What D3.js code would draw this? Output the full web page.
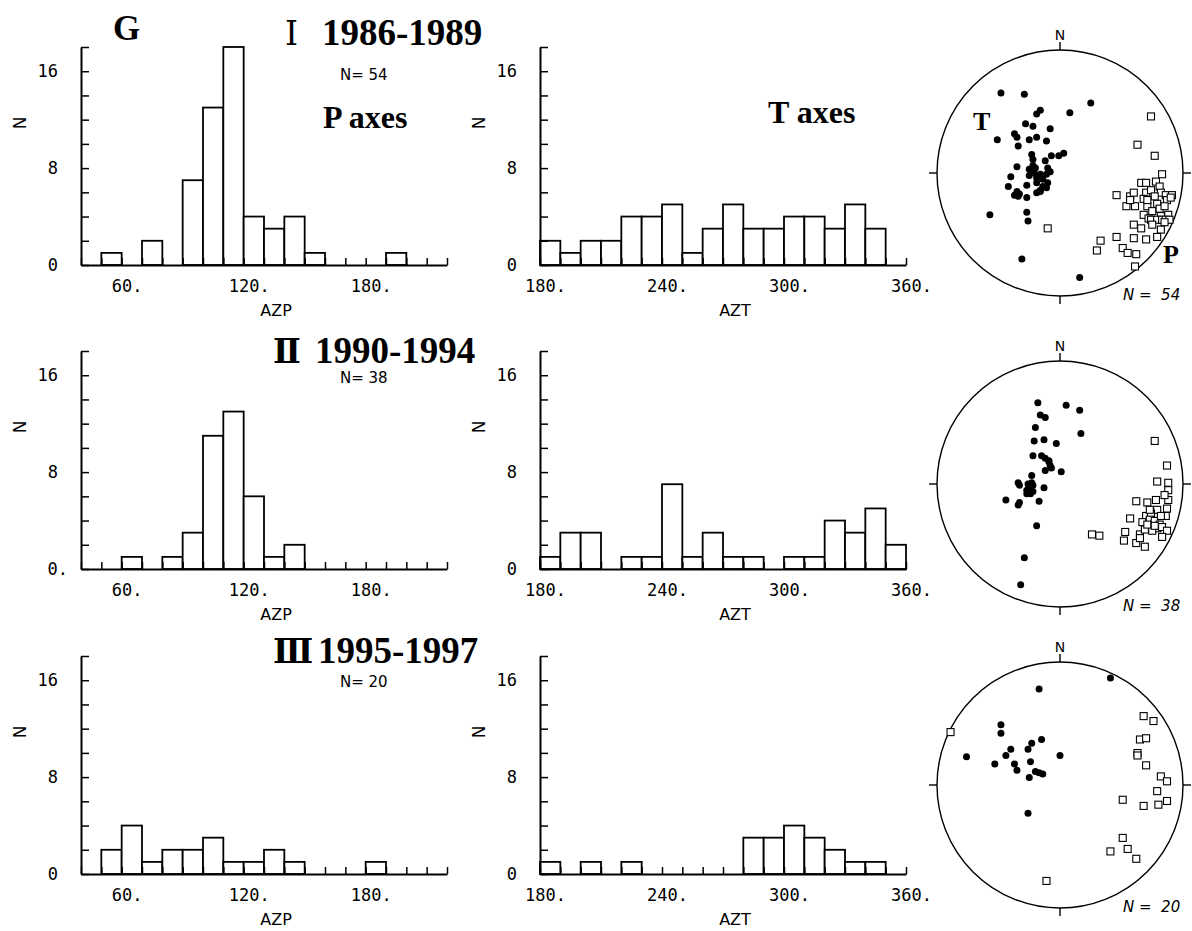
<!DOCTYPE html>
<html>
<head>
<meta charset="utf-8">
<script src="https://cdn.jsdelivr.net/npm/d3@7"></script>
<style>
  body { margin: 0; background: #fff; }
  svg { display: block; }
  .tick text { font-family: "DejaVu Sans Mono", monospace; font-size: 17px; fill: #000; }
</style>
</head>
<body>
<svg class="chart"></svg>
<script>
// histogram bins (10 deg wide), start of each bin
let p_bins = d3.range(40, 220, 10); // AZP 40..220
let t_bins = d3.range(180, 360, 10); // AZT 180..360

// counts per bin
let p_counts_1 = [0, 1, 0, 2, 0, 7, 13, 18, 4, 3, 4, 1, 0, 0, 0, 1, 0, 0];
let t_counts_1 = [2, 1, 2, 2, 4, 4, 5, 1, 3, 5, 3, 3, 4, 4, 3, 5, 3, 0];
let p_counts_2 = [0, 0, 1, 0, 1, 3, 11, 13, 6, 1, 2, 0, 0, 0, 0, 0, 0, 0];
let t_counts_2 = [1, 3, 3, 0, 1, 1, 7, 1, 3, 1, 1, 0, 1, 1, 4, 3, 5, 2];
let p_counts_3 = [0, 2, 4, 1, 2, 2, 3, 1, 1, 2, 1, 0, 0, 0, 1, 0, 0, 0];
let t_counts_3 = [1, 0, 1, 0, 1, 0, 0, 0, 0, 0, 3, 3, 4, 3, 2, 1, 1, 0];

let y_ticks = d3.range(0, 19, 2);
let y_labels = [0, 8, 16];
let p_labels = [60, 120, 180];
let t_labels = [180, 240, 300, 360];

let periods = ["1986-1989", "1990-1994", "1995-1997"];
let numerals = ["\u2160", "\u2161", "\u2162"];
let n_events = [54, 38, 20];

// stereonet points, x/y in units of the net radius (east, north)
let t_pts_1 = [
  [-0.48, 0.65], [-0.29, 0.64], [0.25, 0.57], [0.08, 0.49], [-0.16, 0.51], [-0.19, 0.48],
  [-0.28, 0.4], [-0.22, 0.38], [-0.08, 0.36], [-0.51, 0.27], [-0.37, 0.32], [-0.35, 0.29],
  [-0.25, 0.27], [-0.19, 0.29], [-0.11, 0.26], [-0.34, 0.22], [-0.23, 0.15], [-0.07, 0.14],
  [-0.01, 0.14], [0.03, 0.16], [-0.22, 0.11], [-0.12, 0.1], [-0.35, 0.05], [-0.22, 0.06],
  [-0.25, 0.03], [-0.1, 0.04], [-0.21, 0], [-0.16, -0.01], [-0.11, -0.01], [-0.4, -0.03],
  [-0.19, -0.04], [-0.1, -0.08], [-0.42, -0.11], [-0.27, -0.1], [-0.14, -0.11], [-0.11, -0.12],
  [-0.35, -0.15], [-0.33, -0.17], [-0.16, -0.15], [-0.19, -0.16], [-0.34, -0.19], [-0.27, -0.2],
  [-0.57, -0.34], [-0.27, -0.32], [-0.26, -0.39], [-0.31, -0.7], [0.16, -0.85], [-0.25, -0.02],
  [-0.2, 0.04], [-0.19, -0.08], [-0.08, 0.01], [-0.14, -0.05], [-0.37, -0.18], [-0.16, -0.14],
];
let p_pts_1 = [
  [0.74, 0.46], [0.63, 0.23], [0.77, 0.14], [0.83, -0.01], [0.66, -0.08], [0.7, -0.08],
  [0.78, -0.07], [0.46, -0.18], [0.57, -0.19], [0.6, -0.16], [0.7, -0.16], [0.74, -0.14],
  [0.81, -0.11], [0.82, -0.16], [0.86, -0.18], [0.91, -0.18], [0.54, -0.27], [0.61, -0.27],
  [0.71, -0.27], [0.79, -0.25], [0.87, -0.22], [0.9, -0.2], [0.75, -0.31], [0.68, -0.34],
  [0.72, -0.37], [0.82, -0.35], [0.88, -0.34], [0.74, -0.38], [0.79, -0.38], [0.83, -0.38],
  [0.86, -0.38], [0.89, -0.38], [0.6, -0.42], [0.66, -0.45], [0.75, -0.42], [0.82, -0.46],
  [-0.1, -0.45], [0.46, -0.52], [0.6, -0.53], [0.7, -0.54], [0.79, -0.52], [0.33, -0.55],
  [0.3, -0.63], [0.51, -0.61], [0.55, -0.65], [0.62, -0.66], [0.61, -0.76], [0.85, -0.4],
  [0.77, -0.19], [0.68, -0.21], [0.81, -0.29], [0.57, -0.22], [0.85, -0.27], [0.71, -0.22],
];
let t_pts_2 = [
  [-0.18, 0.66], [0.05, 0.64], [0.16, 0.6], [-0.16, 0.56], [-0.12, 0.54], [-0.2, 0.46],
  [0.17, 0.41], [-0.21, 0.35], [-0.13, 0.36], [-0.03, 0.33], [-0.22, 0.23], [-0.15, 0.23],
  [-0.12, 0.21], [-0.09, 0.18], [-0.08, 0.15], [-0.12, 0.11], [-0.07, 0.13], [0.01, 0.1],
  [-0.23, 0.07], [-0.34, 0.01], [-0.26, 0], [-0.22, -0.01], [-0.13, -0.03], [-0.33, -0.01],
  [-0.25, -0.04], [-0.27, -0.08], [-0.22, -0.06], [-0.24, -0.08], [-0.44, -0.13], [-0.34, -0.17],
  [-0.33, -0.15], [-0.17, -0.14], [-0.19, -0.34], [-0.29, -0.6], [-0.32, -0.82], [-0.09, 0.19],
  [-0.27, -0.05], [-0.23, 0.01],
];
let p_pts_2 = [
  [0.77, 0.35], [0.87, 0.15], [0.79, 0.02], [0.88, 0.01], [0.88, -0.05], [0.62, -0.14],
  [0.71, -0.15], [0.78, -0.13], [0.88, -0.13], [0.79, -0.21], [0.87, -0.2], [0.57, -0.28],
  [0.7, -0.26], [0.74, -0.24], [0.86, -0.26], [0.67, -0.31], [0.73, -0.29], [0.77, -0.3],
  [0.81, -0.33], [0.79, -0.36], [0.83, -0.35], [0.87, -0.38], [0.26, -0.41], [0.32, -0.42],
  [0.53, -0.39], [0.65, -0.41], [0.69, -0.37], [0.75, -0.38], [0.83, -0.43], [0.52, -0.46],
  [0.62, -0.48], [0.69, -0.51], [0.65, -0.44], [0.71, -0.33], [0.77, -0.34], [0.82, -0.26],
  [0.73, -0.21], [0.85, -0.09],
];
let t_pts_3 = [
  [0.41, 0.87], [-0.17, 0.78], [-0.48, 0.49], [-0.48, 0.42], [-0.15, 0.37], [-0.23, 0.34],
  [-0.4, 0.29], [-0.26, 0.29], [-0.44, 0.24], [-0.76, 0.23], [0, 0.24], [-0.53, 0.17],
  [-0.37, 0.17], [-0.24, 0.19], [-0.35, 0.12], [-0.2, 0.11], [-0.14, 0.09], [-0.17, 0.1],
  [-0.25, 0.06], [-0.26, -0.23],
];
let p_pts_3 = [
  [-0.89, 0.43], [0.68, 0.56], [0.76, 0.52], [0.65, 0.37], [0.7, 0.38], [0.63, 0.26],
  [0.63, 0.24], [0.7, 0.16], [0.82, 0.07], [0.87, 0.03], [0.79, -0.05], [0.51, -0.12],
  [0.68, -0.17], [0.8, -0.16], [0.87, -0.13], [0.51, -0.43], [0.55, -0.52], [0.41, -0.54],
  [0.62, -0.6], [-0.11, -0.78],
];

let width = 1192,
  height = 931;
let plot_w = 366,
  plot_h = 218;
let baselines = [265, 569, 874];
let p_left = 81,
  t_left = 540;
let net_cx = 1060,
  net_r = 123;
let net_cy = [173, 484, 785];

let svg = d3.select(".chart").attr("width", width).attr("height", height);

let rows = [
  { p: p_counts_1, t: t_counts_1, tp: t_pts_1, pp: p_pts_1 },
  { p: p_counts_2, t: t_counts_2, tp: t_pts_2, pp: p_pts_2 },
  { p: p_counts_3, t: t_counts_3, tp: t_pts_3, pp: p_pts_3 },
];

rows.forEach((row, i) => {
  drawHist(p_left, baselines[i], p_bins, row.p, p_labels, "AZP", i == 1);
  drawHist(t_left, baselines[i], t_bins, row.t, t_labels, "AZT", false);
  drawNet(net_cx, net_cy[i], row.tp, row.pp, n_events[i]);
});

function drawHist(x0, base, bins, counts, x_labels, name, dot_zero) {
  let lo = bins[0];
  let x = d3.scaleLinear().domain([lo, lo + 180]).range([x0, x0 + plot_w]);
  let y = d3.scaleLinear().domain([0, 18]).range([base, base - plot_h]);
  let g = svg.append("g");

  g.selectAll("rect")
    .data(bins.map((b, i) => ({ b: b, n: counts[i] })).filter((d) => d.n > 0))
    .enter()
    .append("rect")
    .attr("x", (d) => x(d.b))
    .attr("width", (d) => x(d.b + 10) - x(d.b))
    .attr("y", (d) => y(d.n))
    .attr("height", (d) => y(0) - y(d.n))
    .attr("fill", "#fff")
    .attr("stroke", "#000")
    .attr("stroke-width", 1.8);

  // x axis, ticks point up
  let xa = g
    .append("g")
    .attr("transform", "translate(0," + base + ")")
    .call(
      d3
        .axisBottom(x)
        .tickValues(d3.range(lo, lo + 181, 10))
        .tickSizeInner(-7)
        .tickSizeOuter(0)
        .tickPadding(15)
        .tickFormat((d) => (x_labels.includes(d) ? d + "." : ""))
    );
  xa.selectAll("text").attr("dx", 5);

  // y axis, ticks point right
  let ya = g
    .append("g")
    .attr("transform", "translate(" + x0 + ",0)")
    .call(
      d3
        .axisLeft(y)
        .tickValues(y_ticks)
        .tickSizeInner(-8)
        .tickSizeOuter(0)
        .tickPadding(23)
        .tickFormat((d) => (y_labels.includes(d) ? (d == 0 && dot_zero ? "0." : d) : ""))
    );
  if (dot_zero) ya.selectAll("text").filter((d) => d == 0).attr("dx", 10);

  g.selectAll(".domain").attr("stroke-width", 2);
  g.selectAll(".tick line").attr("stroke-width", 1.5);

  g.append("text")
    .attr("transform", "translate(" + (x0 - 55) + "," + (base - 142) + ") rotate(-90)")
    .attr("text-anchor", "middle")
    .attr("font-family", "DejaVu Sans")
    .attr("font-size", "17px")
    .text("N");

  g.append("text")
    .attr("x", x0 + 195)
    .attr("y", base + 51)
    .attr("text-anchor", "middle")
    .attr("font-family", "DejaVu Sans")
    .attr("font-size", "16px")
    .text(name);
}

function drawNet(cx, cy, t_pts, p_pts, n) {
  let sx = d3.scaleLinear().domain([-1, 1]).range([cx - net_r, cx + net_r]);
  let sy = d3.scaleLinear().domain([-1, 1]).range([cy + net_r, cy - net_r]);
  let g = svg.append("g");

  g.append("circle")
    .attr("cx", sx(0))
    .attr("cy", sy(0))
    .attr("r", sx(1) - sx(0))
    .attr("fill", "none")
    .attr("stroke", "#000")
    .attr("stroke-width", 1.4);

  let tk = 8;
  let ticks = [
    [sx(0), sy(1), sx(0), sy(1) - tk],
    [sx(0), sy(-1), sx(0), sy(-1) + tk],
    [sx(-1), sy(0), sx(-1) - tk, sy(0)],
    [sx(1), sy(0), sx(1) + tk, sy(0)],
  ];
  g.selectAll("line")
    .data(ticks)
    .enter()
    .append("line")
    .attr("x1", (d) => d[0])
    .attr("y1", (d) => d[1])
    .attr("x2", (d) => d[2])
    .attr("y2", (d) => d[3])
    .attr("stroke", "#000")
    .attr("stroke-width", 1.4);

  g.append("text")
    .attr("x", sx(0))
    .attr("y", sy(1) - 10)
    .attr("text-anchor", "middle")
    .attr("font-family", "DejaVu Sans")
    .attr("font-size", "14px")
    .text("N");

  g.append("text")
    .attr("x", cx + 63)
    .attr("y", cy + 127)
    .attr("font-family", "DejaVu Sans")
    .attr("font-style", "italic")
    .attr("font-size", "15px")
    .style("white-space", "pre")
    .text("N =  " + n);

  // T axes: filled dots
  g.selectAll(".tdot")
    .data(t_pts)
    .enter()
    .append("circle")
    .attr("class", "tdot")
    .attr("cx", (d) => sx(d[0]))
    .attr("cy", (d) => sy(d[1]))
    .attr("r", 3.5)
    .attr("fill", "#000");

  // P axes: open squares
  g.selectAll(".psq")
    .data(p_pts)
    .enter()
    .append("rect")
    .attr("class", "psq")
    .attr("x", (d) => sx(d[0]) - 3.5)
    .attr("y", (d) => sy(d[1]) - 3.5)
    .attr("width", 7)
    .attr("height", 7)
    .attr("fill", "#fff")
    .attr("stroke", "#000")
    .attr("stroke-width", 1.1);
}

// titles
let serif = "'Liberation Serif', 'Times New Roman', serif";
let title_y = [45, 363, 663];
let num_x = [285, 273, 273];
let year_x = [322, 315, 318];
let n_y = [80, 383, 687];

svg.append("text")
  .attr("x", 113)
  .attr("y", 40)
  .attr("font-family", serif)
  .attr("font-weight", "bold")
  .attr("font-size", "35px")
  .text("G");

periods.forEach((p, i) => {
  svg.append("text")
    .attr("x", num_x[i])
    .attr("y", title_y[i])
    .attr("font-family", "'DejaVu Serif', serif")
    .attr("font-weight", i == 0 ? "normal" : "bold")
    .attr("font-size", "33px")
    .text(numerals[i]);
  svg.append("text")
    .attr("x", year_x[i])
    .attr("y", title_y[i])
    .attr("font-family", serif)
    .attr("font-weight", "bold")
    .attr("font-size", "37px")
    .text(p);
  svg.append("text")
    .attr("x", 340)
    .attr("y", n_y[i])
    .attr("font-family", "DejaVu Sans")
    .attr("font-size", "15px")
    .text("N= " + n_events[i]);
});

svg.append("text")
  .attr("x", 323)
  .attr("y", 128)
  .attr("font-family", serif)
  .attr("font-weight", "bold")
  .attr("font-size", "32px")
  .text("P axes");

svg.append("text")
  .attr("x", 768)
  .attr("y", 123)
  .attr("font-family", serif)
  .attr("font-weight", "bold")
  .attr("font-size", "32px")
  .text("T axes");

// T / P markers on the first net
svg.append("text")
  .attr("x", net_cx - 87)
  .attr("y", net_cy[0] - 43)
  .attr("font-family", serif)
  .attr("font-weight", "bold")
  .attr("font-size", "26px")
  .text("T");
svg.append("text")
  .attr("x", net_cx + 103)
  .attr("y", net_cy[0] + 90)
  .attr("font-family", serif)
  .attr("font-weight", "bold")
  .attr("font-size", "26px")
  .text("P");
</script>
</body>
</html>
